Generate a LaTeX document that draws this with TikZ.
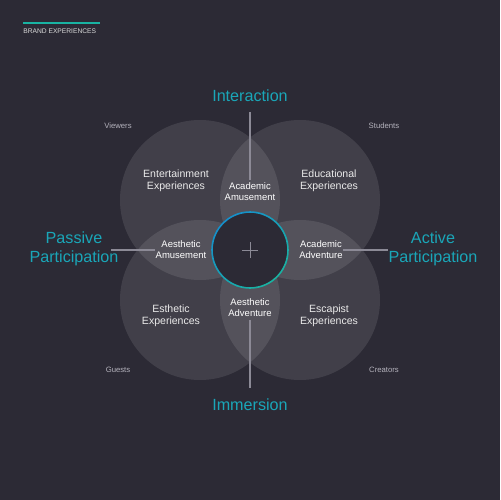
\documentclass[tikz,border=0pt]{standalone}
\usepackage{fontspec}
\setmainfont{Liberation Sans}
\definecolor{bgdark}{HTML}{2C2A35}
\definecolor{axisteal}{HTML}{1AA6B8}
\definecolor{ringblue}{HTML}{1590CC}
\definecolor{ringteal}{HTML}{19B3A2}
\definecolor{axisgray}{HTML}{8C8A96}
\definecolor{softtext}{HTML}{B4B2BC}
\tikzset{
  axislabel/.style={text=axisteal,font=\fontsize{9.2}{10.6}\selectfont,align=center,inner sep=0pt},
  quadlabel/.style={text=white!92!black,font=\fontsize{6}{7}\selectfont,align=center,inner sep=0pt},
  lenslabel/.style={text=white,font=\fontsize{5.4}{6.2}\selectfont,align=center,inner sep=0pt},
  userlabel/.style={text=softtext,font=\fontsize{4.4}{5}\selectfont,inner sep=0pt},
  bubble/.style={fill=white,fill opacity=0.1},
  axisline/.style={draw=axisgray,line width=0.6pt}
}
\begin{document}
\begin{tikzpicture}[x=0.02cm,y=-0.02cm]

% fond
\fill[bgdark] (0,0) rectangle (500,500);
\useasboundingbox (0,0) rectangle (500,500);

% titre
\draw[ringteal,line width=0.6pt] (23,23) -- (100,23);
\node[anchor=west,text=white!85!black,font=\fontsize{3.8}{4.4}\selectfont,inner sep=0pt] (titre) at (23,31) {BRAND EXPERIENCES};

% cercles
\fill[bubble] (200,200) circle (80);
\fill[bubble] (300,200) circle (80);
\fill[bubble] (200,300) circle (80);
\fill[bubble] (300,300) circle (80);

% centre
\fill[bgdark] (250,250) circle (38);
\foreach \a in {0,10,...,350}{
  \pgfmathsetmacro{\m}{50+50*cos(\a-45)}
  \draw[ringteal!\m!ringblue,line width=0.9pt] ([shift={(\a:38)}]250,250) arc[start angle=\a,end angle=\a+10.5,radius=38];
}
\draw[axisgray,line width=0.5pt] (242,250) -- (258,250);
\draw[axisgray,line width=0.5pt] (250,242) -- (250,258);

% axes
\node[axislabel] (inter) at (250,96) {Interaction};
\node[axislabel] (immer) at (250,405) {Immersion};
\node[axislabel] (passif) at (74,249) {Passive\\Participation};
\node[axislabel] (actif) at (433,249) {Active\\Participation};

\coordinate (haut1) at (250,112);
\coordinate (haut2) at (250,180);
\coordinate (bas1) at (250,320);
\coordinate (bas2) at (250,388);
\coordinate (gauche1) at (111,250);
\coordinate (gauche2) at (155,250);
\coordinate (droite1) at (343,250);
\coordinate (droite2) at (388,250);
\draw[axisline] (haut1) -- (haut2);
\draw[axisline] (bas1) -- (bas2);
\draw[axisline] (gauche1) -- (gauche2);
\draw[axisline] (droite1) -- (droite2);

% experiences
\node[quadlabel] (enter) at (176,181) {Entertainment\\Experiences};
\node[quadlabel] (educ) at (329,181) {Educational\\Experiences};
\node[quadlabel] (esthe) at (171,316) {Esthetic\\Experiences};
\node[quadlabel] (escap) at (329,316) {Escapist\\Experiences};

% intersections
\node[lenslabel] (acamus) at (250,192) {Academic\\Amusement};
\node[lenslabel] (aesamus) at (181,250) {Aesthetic\\Amusement};
\node[lenslabel] (acadv) at (321,250) {Academic\\Adventure};
\node[lenslabel] (aesadv) at (250,308) {Aesthetic\\Adventure};

% publics
\node[userlabel] (viewers) at (118,126) {Viewers};
\node[userlabel] (students) at (384,126) {Students};
\node[userlabel] (guests) at (118,370) {Guests};
\node[userlabel] (creators) at (384,370) {Creators};

\end{tikzpicture}
\end{document}
